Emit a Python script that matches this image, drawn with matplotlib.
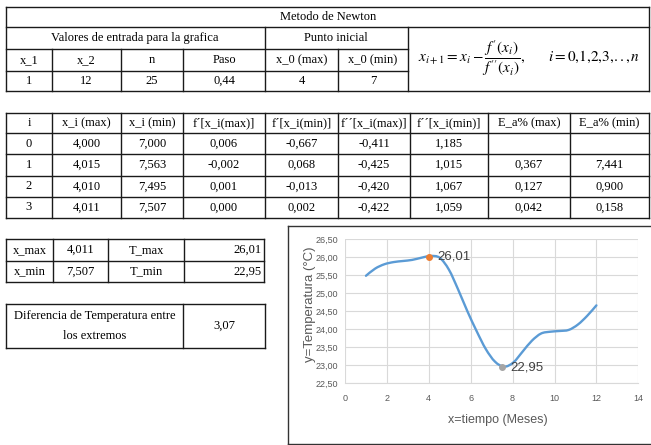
import matplotlib
matplotlib.use('Agg')
import matplotlib.pyplot as plt
from matplotlib.path import Path
from matplotlib.patches import PathPatch
import numpy as np

plt.rcParams['mathtext.fontset'] = 'stix'

# valores de entrada
entrada_hdr = ['x_1', 'x_2', 'n', 'Paso', 'x_0 (max)', 'x_0 (min)']
entrada_val = ['1', '12', '25', '0,44', '4', '7']

# iteraciones de Newton
iter_hdr = ['i', 'x_i (max)', 'x_i (min)', 'f´[x_i(max)]', 'f´[x_i(min)]',
            'f´´[x_i(max)]', 'f´´[x_i(min)]', 'E_a% (max)', 'E_a% (min)']
iter_i = [0, 1, 2, 3]
xi_max = [4.000, 4.015, 4.010, 4.011]
xi_min = [7.000, 7.563, 7.495, 7.507]
d1_max = [0.006, -0.002, 0.001, 0.000]
d1_min = [-0.667, 0.068, -0.013, 0.002]
d2_max = [-0.411, -0.425, -0.420, -0.422]
d2_min = [1.185, 1.015, 1.067, 1.059]
ea_max = [None, 0.367, 0.127, 0.042]
ea_min = [None, 7.441, 0.900, 0.158]

# extremos
x_max, x_min = 4.011, 7.507
t_max, t_min = 26.01, 22.95
dif_t = 3.07

# curva de temperatura (paso 0,44)
meses = [1.00, 1.44, 1.88, 2.32, 2.76, 3.20, 3.64, 4.08, 4.52, 4.96, 5.40, 5.84, 6.28,
         6.72, 7.16, 7.60, 8.04, 8.48, 8.92, 9.36, 9.80, 10.24, 10.68, 11.12, 11.56, 12.00]
temperatura = [25.48, 25.68, 25.80, 25.86, 25.89, 25.92, 25.98, 26.03, 25.98, 25.65, 25.10,
               24.50, 23.95, 23.45, 23.10, 22.96, 23.08, 23.38, 23.68, 23.88, 23.93, 23.95,
               23.98, 24.13, 24.37, 24.66]


def fmt(v, d=3):
    if v is None:
        return ''
    return f'{v:.{d}f}'.replace('.', ',')


W, H = 651, 445
fig = plt.figure(figsize=(W / 100, H / 100), dpi=100)
tab = fig.add_axes([0, 0, 1, 1])
tab.set_xlim(0, W)
tab.set_ylim(H, 0)
tab.axis('off')

LC = '#1a1a1a'
TF = dict(family=['Liberation Serif', 'DejaVu Serif'], fontsize=9, color='black',
          ha='center', va='center')


def hline(y, x0, x1, lw=1.0, c=LC):
    tab.plot([x0, x1], [y, y], color=c, lw=lw, solid_capstyle='projecting')


def vline(x, y0, y1, lw=1.0, c=LC):
    tab.plot([x, x], [y0, y1], color=c, lw=lw, solid_capstyle='projecting')


def rect(x0, x1, y0, y1):
    hline(y0, x0, x1)
    hline(y1, x0, x1)
    vline(x0, y0, y1)
    vline(x1, y0, y1)


# tabla 1: entrada
c1 = [6, 52, 121, 183, 265, 338, 408]
r1 = [6.7, 27, 49, 70.7, 91]
rect(6, 649, r1[0], r1[-1])
hline(r1[1], 6, 649)
hline(r1[2], 6, 408)
hline(r1[3], 6, 408)
vline(265, r1[1], r1[-1])
vline(408, r1[1], r1[-1])
for x in [52, 121, 183, 338]:
    vline(x, r1[2], r1[-1])
tab.text(328, (r1[0] + r1[1]) / 2, 'Metodo de Newton', **TF)
tab.text(135, (r1[1] + r1[2]) / 2, 'Valores de entrada para la grafica', **TF)
tab.text(336, (r1[1] + r1[2]) / 2, 'Punto inicial', **TF)
for j in range(6):
    xc = (c1[j] + c1[j + 1]) / 2
    tab.text(xc, (r1[2] + r1[3]) / 2, entrada_hdr[j], **TF)
    tab.text(xc, (r1[3] + r1[4]) / 2, entrada_val[j], **TF)
tab.text(529, 58,
         r'$x_{i+1} = x_i - \dfrac{f^{\prime}(x_i)}{f^{\prime\prime}(x_i)},\qquad i = 0{,}1{,}2{,}3{,}..{,}\,n$',
         ha='center', va='center', fontsize=11)

# tabla 2: iteraciones
c2 = [6, 52, 121, 183, 265, 338, 410, 488, 570, 649]
r2 = [112.7, 133.3, 154.3, 176, 196.7, 218.3]
rect(c2[0], c2[-1], r2[0], r2[-1])
for y in r2[1:-1]:
    hline(y, c2[0], c2[-1])
for x in c2[1:-1]:
    vline(x, r2[0], r2[-1])
for j, h in enumerate(iter_hdr):
    tab.text((c2[j] + c2[j + 1]) / 2, (r2[0] + r2[1]) / 2, h, **TF)
for k in range(len(iter_i)):
    fila = [str(iter_i[k]), fmt(xi_max[k]), fmt(xi_min[k]), fmt(d1_max[k]), fmt(d1_min[k]),
            fmt(d2_max[k]), fmt(d2_min[k]), fmt(ea_max[k]), fmt(ea_min[k])]
    yc = (r2[k + 1] + r2[k + 2]) / 2
    for j, s in enumerate(fila):
        tab.text((c2[j] + c2[j + 1]) / 2, yc, s, **TF)

# tabla 3: extremos
c3 = [6, 53, 108, 184, 264]
r3 = [239.3, 260.7, 282.3]
rect(c3[0], c3[-1], r3[0], r3[-1])
hline(r3[1], c3[0], c3[-1])
for x in c3[1:-1]:
    vline(x, r3[0], r3[-1])
for k, (a, b, c, d) in enumerate([('x_max', x_max, 'T_max', t_max),
                                  ('x_min', x_min, 'T_min', t_min)]):
    yc = (r3[k] + r3[k + 1]) / 2
    tab.text((c3[0] + c3[1]) / 2, yc, a, **TF)
    tab.text((c3[1] + c3[2]) / 2, yc, fmt(b), **TF)
    tab.text((c3[2] + c3[3]) / 2, yc, c, **TF)
    tab.text(c3[4] - 2, yc, fmt(d, 2), **dict(TF, ha='right'))

# tabla 4: diferencia
rect(6, 265, 304, 348.3)
vline(183, 304, 348.3)
tab.text(94.5, 316, 'Diferencia de Temperatura entre', **TF)
tab.text(94.5, 336, 'los extremos', **TF)
tab.text(224, 326, fmt(dif_t, 2), **TF)

# marco del grafico
hline(226, 288, 655, c='#333333')
vline(288, 226, 444, c='#333333')
hline(444, 288, 655, c='#333333')

# grafico
SF = ['Liberation Sans Narrow', 'Liberation Sans', 'DejaVu Sans']
gx0, gx1, gy0, gy1 = 345, 638.3, 239, 383.3
ax = fig.add_axes([gx0 / W, 1 - gy1 / H, (gx1 - gx0) / W, (gy1 - gy0) / H])
ax.set_facecolor('none')
ax.set_xlim(0, 14)
ax.set_ylim(22.5, 26.5)
ax.set_xticks(np.arange(0, 15, 2))
yt = np.arange(22.5, 26.51, 0.5)
ax.set_yticks(yt)
ax.set_yticklabels([fmt(v, 2) for v in yt])
ax.grid(True, color='#d9d9d9', lw=0.8)
ax.set_axisbelow(True)
for s in ['top', 'right', 'left']:
    ax.spines[s].set_visible(False)
ax.spines['bottom'].set_color('#d9d9d9')
ax.tick_params(length=0, labelsize=6.5, labelcolor='#595959')
ax.tick_params(axis='x', pad=8)
ax.tick_params(axis='y', pad=5)
for lb in ax.get_xticklabels() + ax.get_yticklabels():
    lb.set_family(SF)

pts = np.column_stack([meses, temperatura])
verts = [pts[0]]
codes = [Path.MOVETO]
n = len(pts)
for i in range(n - 1):
    p0 = pts[max(i - 1, 0)]
    p1 = pts[i]
    p2 = pts[i + 1]
    p3 = pts[min(i + 2, n - 1)]
    verts += [p1 + (p2 - p0) / 6, p2 - (p3 - p1) / 6, p2]
    codes += [Path.CURVE4] * 3
ax.add_patch(PathPatch(Path(verts, codes), fill=False, edgecolor='#5B9BD5', lw=1.7,
                       capstyle='round', joinstyle='round'))

ax.plot([x_max], [t_max], 'o', color='#ED7D31', ms=4, zorder=5)
ax.plot([x_min], [t_min], 'o', color='#A5A5A5', ms=4, zorder=5)
ax.annotate(fmt(t_max, 2), (x_max, t_max), xytext=(6, 0), textcoords='offset points',
            ha='left', va='center', fontsize=9.5, color='#404040', family=SF)
ax.annotate(fmt(t_min, 2), (x_min, t_min), xytext=(6, 0), textcoords='offset points',
            ha='left', va='center', fontsize=9.5, color='#404040', family=SF)

tab.text(498, 420, 'x=tiempo (Meses)', ha='center', va='center', fontsize=9,
         color='#595959', family=SF)
tab.text(310, 304, 'y=Temperatura (°C)', ha='center', va='center', fontsize=9.5,
         color='#595959', family=SF, rotation=90)

fig.savefig('out.png', dpi=100)
